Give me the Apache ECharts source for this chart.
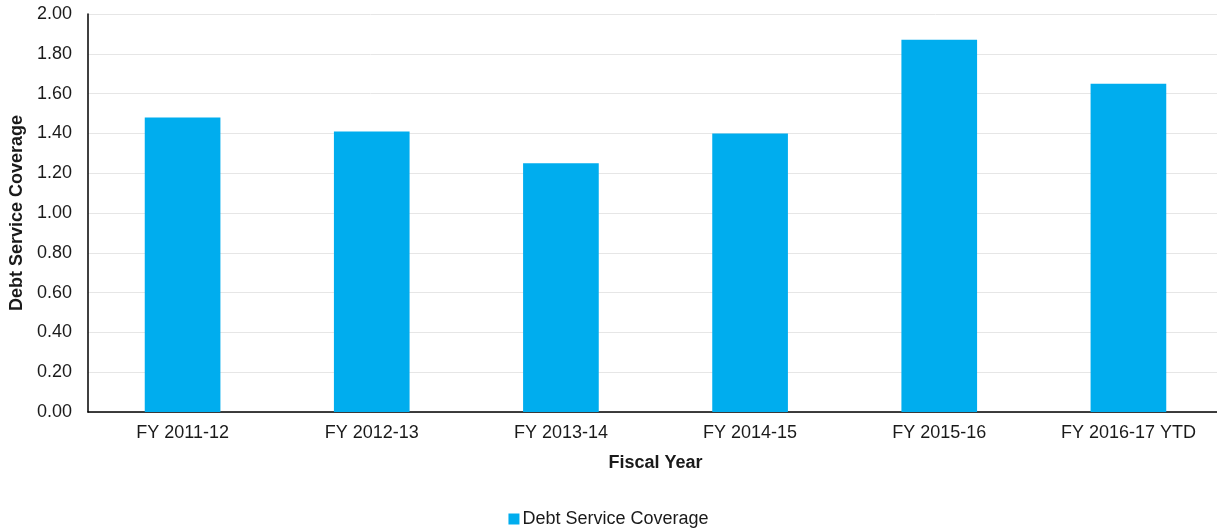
<!DOCTYPE html>
<html>
<head>
<meta charset="utf-8">
<script src="https://cdn.jsdelivr.net/npm/echarts@6/dist/echarts.min.js"></script>
<style>
  html, body { margin: 0; padding: 0; background: #fff; }
  #grafiek { width: 1217px; height: 531px; }
</style>
</head>
<body>
<div id="grafiek"></div>
<script>
// gegevens uit de grafiek
const jaren = ['FY 2011-12', 'FY 2012-13', 'FY 2013-14', 'FY 2014-15', 'FY 2015-16', 'FY 2016-17 YTD'];
const dekking = [1.48, 1.41, 1.25, 1.40, 1.87, 1.65];
const reeksNaam = 'Debt Service Coverage';

const font = '"Liberation Sans", Arial, sans-serif';

let grafiek = echarts.init(document.getElementById('grafiek'));
let option = {
    backgroundColor: '#ffffff',
    textStyle: { fontFamily: font },
    animation: false,
    grid: { left: 88, right: -6, top: 14, bottom: 119, containLabel: false, outerBoundsMode: 'none' },
    legend: {
        data: [reeksNaam],
        bottom: -2,
        left: 'center',
        itemWidth: 11,
        itemHeight: 11,
        itemGap: 4,
        icon: 'rect',
        textStyle: { fontSize: 18, color: '#1a1a1a', fontFamily: font, padding: [0, 0, 0, -2] }
    },
    xAxis: {
        type: 'category',
        data: jaren,
        name: 'Fiscal Year',
        nameLocation: 'middle',
        nameGap: 42,
        nameTextStyle: { fontSize: 18, fontWeight: 'bold', color: '#1a1a1a', fontFamily: font },
        axisLine: { lineStyle: { color: '#000', width: 1.5 } },
        axisTick: { show: false },
        axisLabel: { fontSize: 18, color: '#1a1a1a', margin: 12, fontFamily: font }
    },
    yAxis: {
        type: 'value',
        min: 0,
        max: 2,
        interval: 0.2,
        name: 'Debt Service Coverage',
        nameLocation: 'middle',
        nameGap: 54,
        nameRotate: 90,
        nameTextStyle: { fontSize: 18, fontWeight: 'bold', color: '#1a1a1a', fontFamily: font },
        axisLine: { show: true, lineStyle: { color: '#000', width: 1.5 } },
        axisTick: { show: false },
        axisLabel: {
            fontSize: 18, color: '#1a1a1a', margin: 16, fontFamily: font,
            formatter: v => v.toFixed(2)
        },
        splitLine: { lineStyle: { color: '#e6e6e6', width: 1 } }
    },
    series: [
        {
            name: reeksNaam,
            type: 'bar',
            data: dekking,
            barWidth: '40%',
            itemStyle: { color: '#00adee' }
        }
    ]
};
grafiek.setOption(option);
</script>
</body>
</html>
